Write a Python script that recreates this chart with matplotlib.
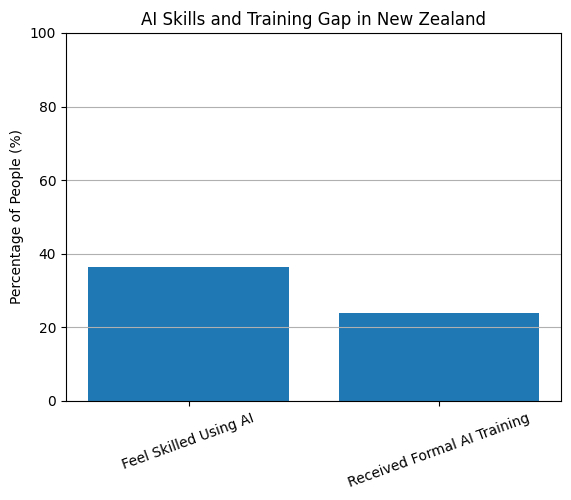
import matplotlib
matplotlib.use("Agg")
import matplotlib.pyplot as plt

categories = ["Feel Skilled Using AI", "Received Formal AI Training"]
percentages = [36.3, 23.8]

fig = plt.figure(figsize=(5.71, 5.0), dpi=100)
ax = fig.add_axes([66 / 571, 1 - 401 / 500, (561 - 66) / 571, (401 - 33) / 500])

ax.bar(categories, percentages, color="#1f77b4")
ax.set_ylim(0, 100)
ax.set_ylabel("Percentage of People (%)")
ax.set_title("AI Skills and Training Gap in New Zealand")
ax.grid(axis="y")
plt.setp(ax.get_xticklabels(), rotation=20)

fig.savefig("out.png", dpi=100)
